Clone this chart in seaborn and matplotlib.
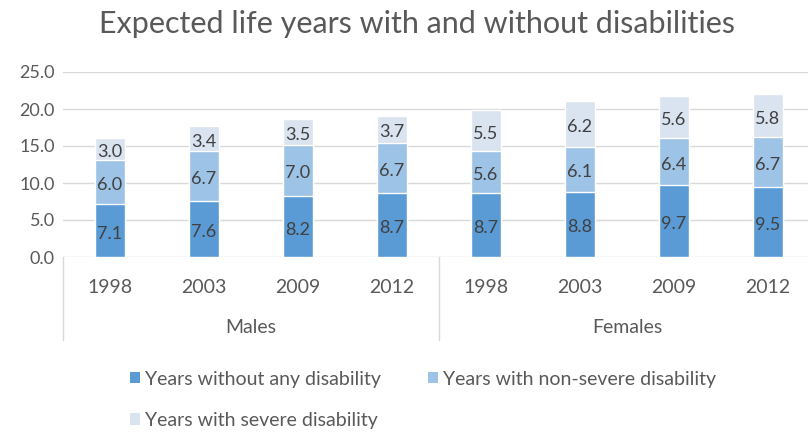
import numpy as np
import pandas as pd
import matplotlib
matplotlib.use("Agg")
import matplotlib.pyplot as plt
import seaborn as sns
from matplotlib.patches import Patch

# data
groups = ["Males", "Females"]
years = ["1998", "2003", "2009", "2012"]
no_disability = [7.1, 7.6, 8.2, 8.7, 8.7, 8.8, 9.7, 9.5]
non_severe = [6.0, 6.7, 7.0, 6.7, 5.6, 6.1, 6.4, 6.7]
severe = [3.0, 3.4, 3.5, 3.7, 5.5, 6.2, 5.6, 5.8]
series_names = ["Years without any disability",
                "Years with non-severe disability",
                "Years with severe disability"]
colors = ["#5B9BD5", "#9DC3E6", "#DAE3F0"]

sns.set_theme(style="white")
plt.rcParams["font.family"] = ["Lato", "DejaVu Sans"]

cats = [g + " " + y for g in groups for y in years]
df = pd.DataFrame({"cat": cats,
                   "s1": no_disability,
                   "s2": non_severe,
                   "s3": severe})
df["c1"] = df["s1"]
df["c2"] = df["s1"] + df["s2"]
df["c3"] = df["c2"] + df["s3"]

fig = plt.figure(figsize=(8.08, 4.34), dpi=100)
ax = fig.add_axes([63 / 808, 177 / 434, 752 / 808, 185 / 434])

# stacked bars: draw totals first, then the lower parts on top
for col, c in zip(["c3", "c2", "c1"], colors[::-1]):
    sns.barplot(data=df, x="cat", y=col, order=cats, color=c,
                width=0.31, ax=ax, saturation=1, zorder=3)

# data labels in the middle of each segment
for i in range(len(cats)):
    base = 0
    for val in [no_disability[i], non_severe[i], severe[i]]:
        ax.text(i, base + val / 2 - 0.4, f"{val:.1f}", ha="center", va="center",
                fontsize=13, color="#404040", zorder=4)
        base += val

ax.set_ylim(0, 25)
ax.set_xlim(-0.5, 7.5)
ax.set_yticks(np.arange(0, 26, 5))
ax.set_yticklabels([f"{v:.1f}" for v in np.arange(0, 26, 5)], fontsize=13, color="#595959")
ax.yaxis.grid(True, color="#D9D9D9", linewidth=1)
ax.set_axisbelow(True)
ax.set_xticks(range(len(cats)))
ax.set_xticklabels(years * 2, fontsize=14, color="#595959")
ax.tick_params(axis="x", length=0, pad=16)
ax.tick_params(axis="y", length=0, pad=6)
ax.set_xlabel("")
ax.set_ylabel("")
for s in ax.spines.values():
    s.set_visible(False)

# group labels and separators under the axis
trans = ax.get_xaxis_transform()
for x in [-0.5, 3.5, 7.5]:
    ax.plot([x, x], [0, -0.45], color="#D9D9D9", lw=1, transform=trans, clip_on=False)
for k, g in enumerate(groups):
    ax.text(1.5 + 4 * k, -0.38, g, transform=trans, ha="center", va="center",
            fontsize=14, color="#595959")

fig.text(417 / 808, 0.945, "Expected life years with and without disabilities",
         ha="center", va="center", fontsize=22, color="#595959")

# legend filled row by row: first two on row one, third below
handles = [Patch(facecolor=c, edgecolor="none") for c in colors]
order = [0, 2, 1]
fig.legend([handles[k] for k in order], [series_names[k] for k in order],
           loc="upper left", bbox_to_anchor=(112 / 808, 1 - 353 / 434),
           ncol=2, frameon=False, fontsize=14, labelcolor="#595959",
           handlelength=0.55, handleheight=0.55, handletextpad=0.25,
           columnspacing=2.4, labelspacing=1.25)

fig.savefig("out.png", dpi=100)
